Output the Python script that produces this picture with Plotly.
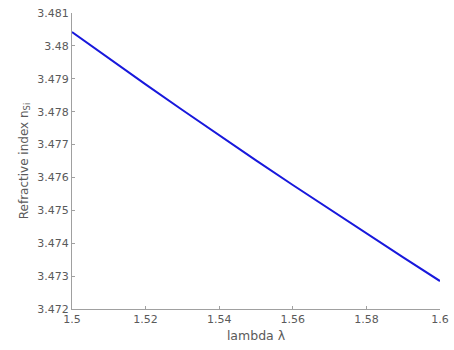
import plotly.graph_objects as go

wavelength = [1.50, 1.51, 1.52, 1.53, 1.54, 1.55, 1.56, 1.57, 1.58, 1.59, 1.60]
n_si = [3.48042, 3.47962, 3.47883, 3.47805, 3.47728, 3.47652, 3.47577, 3.47503, 3.47430, 3.47357, 3.47285]

xticks = [1.5, 1.52, 1.54, 1.56, 1.58, 1.6]
xticklabels = ["1.5", "1.52", "1.54", "1.56", "1.58", "1.6"]
yticks = [3.472, 3.473, 3.474, 3.475, 3.476, 3.477, 3.478, 3.479, 3.48, 3.481]
yticklabels = ["3.472", "3.473", "3.474", "3.475", "3.476", "3.477", "3.478", "3.479", "3.48", "3.481"]

FONT = "DejaVu Sans, Liberation Sans, sans-serif"

fig = go.Figure()
fig.add_trace(go.Scatter(x=wavelength, y=n_si, mode="lines",
                         line=dict(color="#1818dc", width=2), showlegend=False))

axis_common = dict(showgrid=False, zeroline=False, showline=True, linecolor="#a0a0a0",
                   linewidth=1, ticks="inside", ticklen=3, tickcolor="#a0a0a0",
                   automargin=False,
                   tickfont=dict(family=FONT, size=11, color="#5a5a5a"))

fig.update_layout(
    width=454, height=350,
    margin=dict(l=72, r=14, t=13, b=41, pad=0, autoexpand=False),
    paper_bgcolor="white", plot_bgcolor="white",
    xaxis=dict(range=[1.5, 1.6], tickvals=xticks, ticktext=xticklabels,
               title=dict(text="lambda λ", standoff=6,
                          font=dict(family=FONT, size=12.5, color="#5a5a5a")),
               **axis_common),
    yaxis=dict(range=[3.472, 3.481], tickvals=yticks, ticktext=yticklabels,
               title=dict(text="Refractive index n<sub>Si</sub>", standoff=6,
                          font=dict(family=FONT, size=12, color="#5a5a5a")),
               **axis_common),
)

fig.write_html("out.html")
